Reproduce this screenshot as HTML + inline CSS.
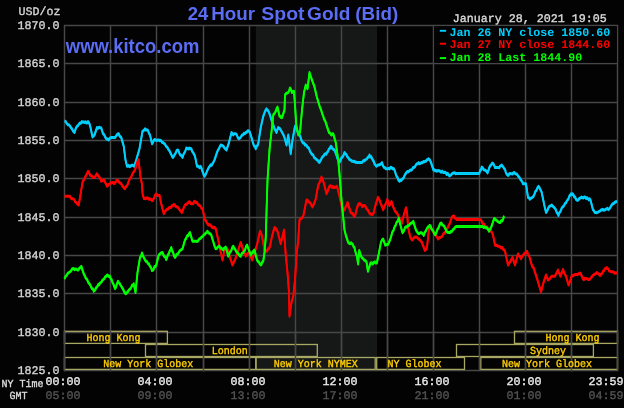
<!DOCTYPE html><html><head><meta charset="utf-8"><style>
html,body{margin:0;padding:0;background:#030303;width:624px;height:408px;overflow:hidden}
svg{display:block;will-change:transform;filter:blur(0.3px)}
.m{font-family:"Liberation Mono",monospace;text-rendering:geometricPrecision}
.s{font-family:"Liberation Sans",sans-serif;font-weight:bold}
</style></head><body>
<svg width="624" height="408" viewBox="0 0 624 408">
<rect x="0" y="0" width="624" height="408" fill="#030303"/>
<rect x="255.8" y="25.5" width="121.2" height="345.0" fill="#151817"/>
<path d="M64.50 24.77V371.23M110.50 24.77V371.23M156.50 24.77V371.23M203.50 24.77V371.23M249.50 24.77V371.23M295.50 24.77V371.23M341.50 24.77V371.23M387.50 24.77V371.23M433.50 24.77V371.23M479.50 24.77V371.23M525.50 24.77V371.23M571.50 24.77V371.23M617.50 24.77V371.23M64.50 25.50H617.50M64.50 63.50H617.50M64.50 102.50H617.50M64.50 140.50H617.50M64.50 178.50H617.50M64.50 217.50H617.50M64.50 255.50H617.50M64.50 293.50H617.50M64.50 332.50H617.50M64.50 370.50H617.50" stroke="#474747" stroke-width="1.45" fill="none"/>
<rect x="434.23" y="26.23" width="182.55" height="36.55" fill="#030303"/>
<rect x="64.50" y="331.30" width="102.90" height="12.10" fill="none" stroke="#a9a862" stroke-width="1.30"/>
<rect x="514.50" y="331.30" width="103.00" height="12.10" fill="none" stroke="#a9a862" stroke-width="1.30"/>
<rect x="145.50" y="344.50" width="171.80" height="12.00" fill="none" stroke="#a9a862" stroke-width="1.30"/>
<rect x="456.50" y="344.50" width="136.90" height="12.00" fill="none" stroke="#a9a862" stroke-width="1.30"/>
<rect x="64.50" y="357.50" width="191.40" height="11.90" fill="none" stroke="#a9a862" stroke-width="1.30"/>
<rect x="255.90" y="357.50" width="119.30" height="11.90" fill="none" stroke="#a9a862" stroke-width="1.30"/>
<rect x="376.70" y="357.50" width="87.80" height="11.90" fill="none" stroke="#a9a862" stroke-width="1.30"/>
<rect x="480.80" y="357.50" width="136.70" height="11.90" fill="none" stroke="#a9a862" stroke-width="1.30"/>
<path d="M64.50 330.65V371.23M110.50 330.65V371.23M156.50 330.65V371.23M203.50 330.65V371.23M249.50 330.65V371.23M295.50 330.65V371.23M341.50 330.65V371.23M387.50 330.65V371.23M433.50 330.65V371.23M479.50 330.65V371.23M525.50 330.65V371.23M571.50 330.65V371.23M617.50 330.65V371.23" stroke="#474747" stroke-width="1.45" fill="none"/>
<text class="m" transform="translate(86.50 341.20) scale(1 1.080)" font-size="10.00" font-weight="normal" fill="#ffcf00" stroke="#ffcf00" stroke-width="0.35">Hong Kong</text>
<text class="m" transform="translate(545.60 341.20) scale(1 1.080)" font-size="10.00" font-weight="normal" fill="#ffcf00" stroke="#ffcf00" stroke-width="0.35">Hong Kong</text>
<text class="m" transform="translate(211.80 354.20) scale(1 1.080)" font-size="10.00" font-weight="normal" fill="#ffcf00" stroke="#ffcf00" stroke-width="0.35">London</text>
<text class="m" transform="translate(529.90 354.20) scale(1 1.080)" font-size="10.00" font-weight="normal" fill="#ffcf00" stroke="#ffcf00" stroke-width="0.35">Sydney</text>
<text class="m" transform="translate(103.30 367.00) scale(1 1.080)" font-size="10.00" font-weight="normal" fill="#ffcf00" stroke="#ffcf00" stroke-width="0.35">New York Globex</text>
<text class="m" transform="translate(273.70 367.00) scale(1 1.080)" font-size="10.00" font-weight="normal" fill="#ffcf00" stroke="#ffcf00" stroke-width="0.35">New York NYMEX</text>
<text class="m" transform="translate(387.60 367.00) scale(1 1.080)" font-size="10.00" font-weight="normal" fill="#ffcf00" stroke="#ffcf00" stroke-width="0.35">NY Globex</text>
<text class="m" transform="translate(502.00 367.00) scale(1 1.080)" font-size="10.00" font-weight="normal" fill="#ffcf00" stroke="#ffcf00" stroke-width="0.35">New York Globex</text>
<g fill="none" stroke="#00d0ff" stroke-width="1.80" stroke-linejoin="round"><polyline points="64.50,121.25 65.38,121.22 66.25,122.50 67.19,124.06 68.12,124.85 69.06,124.87 70.00,126.25 70.90,127.49 71.80,128.66 72.70,130.27 73.60,131.77 74.50,132.50 75.33,129.69 76.17,127.48 77.00,126.25 78.00,125.77 79.00,123.96 80.00,123.00 80.94,123.22 81.88,121.60 82.81,122.15 83.75,122.00 84.58,122.48 85.42,121.68 86.25,123.05 87.08,123.06 87.92,121.57 88.75,122.50 89.62,124.15 90.50,127.50 91.50,132.25 92.50,137.00 93.50,136.07 94.50,135.00 95.33,132.50 96.17,130.00 97.00,127.50 97.85,128.39 98.70,127.49 99.55,127.29 100.40,127.76 101.25,128.00 102.12,130.88 103.00,133.75 103.81,134.15 104.62,135.75 105.44,137.39 106.25,138.75 107.08,139.16 107.92,139.10 108.75,140.00 109.58,138.68 110.42,137.83 111.25,137.50 112.19,137.50 113.12,137.50 114.06,137.50 115.00,137.50 116.00,136.18 117.00,134.62 118.00,133.75 118.81,133.83 119.62,136.23 120.44,136.66 121.25,137.50 122.08,140.42 122.92,143.33 123.75,146.25 124.62,153.12 125.50,160.00 127.00,166.25 127.85,166.36 128.70,165.38 129.55,166.69 130.40,166.30 131.25,165.50 132.25,165.07 133.25,165.70 134.25,166.25 135.25,163.12 136.25,160.00 137.06,157.19 137.88,154.38 138.69,151.56 139.50,148.75 140.50,142.92 141.50,137.08 142.50,131.25 143.33,130.82 144.17,129.96 145.00,128.75 146.00,130.12 147.00,129.78 148.00,130.50 149.00,133.34 150.00,135.00 151.00,139.38 152.00,143.75 152.83,142.64 153.67,140.56 154.50,139.50 155.35,139.76 156.20,140.39 157.05,140.42 157.90,139.91 158.75,140.00 159.60,140.66 160.45,140.16 161.30,141.04 162.15,142.54 163.00,142.50 163.90,143.35 164.80,143.91 165.70,145.59 166.60,146.87 167.50,147.50 168.42,149.48 169.33,150.61 170.25,152.39 171.17,154.18 172.08,156.33 173.00,157.50 173.90,156.04 174.80,154.31 175.70,152.98 176.60,150.65 177.50,150.00 178.33,150.43 179.17,152.87 180.00,154.62 180.83,155.17 181.67,156.06 182.50,157.50 183.44,154.53 184.38,152.75 185.31,151.24 186.25,148.00 187.08,148.61 187.92,148.32 188.75,149.02 189.58,148.02 190.42,148.65 191.25,148.75 192.19,151.44 193.12,152.64 194.06,154.30 195.00,156.25 196.00,161.25 197.00,166.25 197.85,166.08 198.70,166.84 199.55,167.82 200.40,166.36 201.25,167.50 202.06,170.20 202.88,172.45 203.69,174.76 204.50,176.25 205.35,174.93 206.20,173.31 207.05,171.03 207.90,169.36 208.75,167.50 209.69,166.43 210.62,164.83 211.56,165.35 212.50,163.75 213.50,162.00 214.50,160.00 215.33,157.50 216.17,155.00 217.00,152.50 217.94,150.08 218.88,148.76 219.81,146.85 220.75,145.00 221.58,145.16 222.42,145.56 223.25,146.25 224.06,147.26 224.88,148.35 225.69,149.26 226.50,150.00 227.33,147.50 228.17,145.00 229.00,142.50 229.83,139.17 230.67,135.83 231.50,132.50 232.38,133.67 233.25,135.00 234.08,133.73 234.92,133.68 235.75,133.75 236.56,134.42 237.38,136.40 238.19,138.15 239.00,138.75 240.00,138.04 241.00,136.78 242.00,135.00 242.94,134.94 243.88,133.31 244.81,133.74 245.75,132.50 246.56,132.50 247.38,131.12 248.19,130.69 249.00,131.25 249.88,132.25 250.75,135.00 251.58,137.92 252.42,140.83 253.25,143.75 254.08,145.88 254.92,146.63 255.75,148.75 256.58,146.38 257.42,145.64 258.25,143.75 259.08,138.33 259.92,132.92 260.75,127.50 261.58,123.75 262.42,120.00 263.25,116.25 264.06,114.09 264.88,111.73 265.69,110.01 266.50,108.75 267.33,110.05 268.17,110.65 269.00,112.50 270.00,115.01 271.00,118.71 272.00,121.25 272.83,123.75 273.67,126.25 274.50,128.75 275.50,130.54 276.50,132.50 277.38,129.68 278.25,127.50 279.06,128.39 279.88,128.52 280.69,130.11 281.50,131.25 282.50,133.19 283.50,134.86 284.50,137.50 285.50,141.25 286.50,145.00 287.38,140.00 288.25,135.00 289.08,141.25 289.92,147.50 290.75,153.75 291.62,146.88 292.50,140.00 293.33,135.42 294.17,130.83 295.00,126.25 296.00,127.42 297.00,130.00 297.83,132.39 298.67,133.35 299.50,135.00 300.33,136.56 301.17,139.36 302.00,141.25 303.00,143.07 304.00,142.89 305.00,145.00 305.81,144.76 306.62,145.61 307.44,147.27 308.25,147.50 309.08,148.56 309.92,151.20 310.75,152.50 311.58,153.86 312.42,154.66 313.25,155.12 314.08,157.52 314.92,158.24 315.75,158.75 316.69,159.72 317.62,160.13 318.56,161.83 319.50,162.50 320.33,160.64 321.17,159.30 322.00,157.50 322.83,156.34 323.67,156.07 324.50,154.21 325.33,153.80 326.17,154.18 327.00,152.50 327.94,151.61 328.88,149.03 329.81,148.46 330.75,146.25 331.69,146.85 332.62,148.92 333.56,149.50 334.50,150.00 335.50,152.77 336.50,155.39 337.50,158.75 338.50,159.49 339.50,162.00 340.33,161.18 341.17,158.17 342.00,157.50 342.83,156.41 343.67,155.00 344.50,152.50 345.44,153.88 346.38,154.41 347.31,156.91 348.25,157.50 349.19,159.29 350.12,159.74 351.06,160.33 352.00,161.25 352.83,161.24 353.67,161.39 354.50,161.35 355.33,162.40 356.17,162.17 357.00,162.50 357.83,162.50 358.67,162.50 359.50,162.50 360.33,162.50 361.17,162.50 362.00,162.50 362.83,161.32 363.67,160.54 364.50,160.92 365.33,159.63 366.17,159.37 367.00,158.75 367.83,157.19 368.67,156.92 369.50,155.00 370.31,156.97 371.12,156.63 371.94,158.21 372.75,160.00 373.69,161.25 374.62,164.00 375.56,165.20 376.50,166.25 377.33,165.54 378.17,164.90 379.00,165.00 380.00,164.48 381.00,163.94 382.00,162.50 383.00,165.78 384.00,167.50 384.94,167.53 385.88,168.81 386.81,168.77 387.75,168.75 388.69,168.41 389.62,169.00 390.56,167.33 391.50,167.50 392.50,168.74 393.50,168.42 394.50,170.00 395.50,173.12 396.50,176.25 397.50,177.32 398.50,180.32 399.50,181.25 400.31,180.11 401.12,180.47 401.94,179.56 402.75,178.75 403.69,177.80 404.62,175.39 405.56,173.78 406.50,172.50 407.44,171.50 408.38,171.91 409.31,170.81 410.25,170.00 411.19,170.19 412.12,169.45 413.06,167.47 414.00,167.50 414.94,166.65 415.88,164.91 416.81,163.86 417.75,163.75 418.69,162.67 419.62,163.78 420.56,163.33 421.50,162.50 422.44,162.78 423.38,161.59 424.31,161.77 425.25,161.25 426.06,161.13 426.88,159.78 427.69,159.50 428.50,158.75 429.33,159.50 430.17,160.50 431.00,162.50 431.83,165.00 432.67,167.50 433.50,170.00 434.35,169.68 435.20,170.90 436.05,170.42 436.90,171.17 437.75,170.50 438.64,170.71 439.54,170.67 440.43,171.87 441.32,172.23 442.21,171.05 443.11,172.52 444.00,172.50 444.89,172.19 445.79,172.66 446.68,174.48 447.57,173.39 448.46,174.17 449.36,175.95 450.25,175.50 451.19,174.73 452.12,173.56 453.06,173.03 454.00,173.00 454.83,172.70 455.67,173.77 456.50,173.50 457.31,173.50 458.12,173.50 458.94,173.50 459.75,173.50 460.56,173.50 461.38,173.50 462.19,173.50 463.00,173.50 463.81,173.50 464.62,173.50 465.44,173.50 466.25,173.50 467.06,173.50 467.88,173.50 468.69,173.50 469.50,173.50 470.31,173.50 471.12,173.50 471.94,173.50 472.75,173.50 473.56,173.50 474.38,173.50 475.19,173.50 476.00,173.50 476.81,173.50 477.62,173.50 478.44,173.50 479.25,173.50 480.08,170.62 480.92,169.91 481.75,167.00 482.56,167.53 483.38,169.35 484.19,169.99 485.00,170.00 485.83,170.63 486.67,171.56 487.50,173.00 488.33,170.71 489.17,167.78 490.00,166.25 491.12,164.90 492.25,163.00 493.17,163.67 494.08,165.12 495.00,167.50 495.88,167.50 496.75,167.50 497.62,167.50 498.50,167.50 499.31,167.74 500.12,165.88 500.94,165.80 501.75,165.00 502.58,166.16 503.42,167.16 504.25,168.75 505.06,169.53 505.88,172.62 506.69,174.28 507.50,175.00 508.38,175.53 509.25,173.68 510.12,173.55 511.00,173.75 511.81,173.65 512.62,173.99 513.44,172.89 514.25,172.50 515.06,173.46 515.88,174.04 516.69,173.94 517.50,175.00 518.50,176.57 519.50,177.65 520.50,179.50 521.33,180.46 522.17,181.58 523.00,183.75 524.00,183.75 525.00,183.75 526.00,183.75 527.00,190.62 528.00,197.50 528.83,197.52 529.67,199.20 530.50,198.75 531.50,197.82 532.50,197.36 533.50,196.25 534.50,194.01 535.50,191.25 536.50,190.38 537.50,187.72 538.50,186.25 539.31,187.46 540.12,189.06 540.94,190.61 541.75,192.50 542.58,196.67 543.42,200.83 544.25,205.00 545.12,208.75 546.00,212.50 546.83,211.46 547.67,209.87 548.50,207.50 549.31,206.52 550.12,205.95 550.94,205.70 551.75,205.00 552.58,205.98 553.42,206.84 554.25,207.50 555.08,208.71 555.92,209.97 556.75,212.50 557.62,213.54 558.50,215.50 559.33,212.90 560.17,211.93 561.00,210.00 561.81,207.98 562.62,206.74 563.44,206.49 564.25,205.00 565.06,203.37 565.88,203.03 566.69,201.24 567.50,200.00 568.38,199.09 569.25,196.25 570.12,195.32 571.00,193.75 571.83,194.70 572.67,193.82 573.50,195.00 574.31,197.06 575.12,196.91 575.94,199.25 576.75,200.00 577.69,200.37 578.62,199.58 579.56,198.18 580.50,198.00 581.44,197.04 582.38,197.53 583.31,198.00 584.25,197.00 585.19,197.07 586.12,198.58 587.06,197.67 588.00,198.75 588.83,199.91 589.67,198.74 590.50,200.00 591.33,203.33 592.17,206.67 593.00,210.00 593.83,210.50 594.67,212.39 595.50,212.50 596.33,212.71 597.17,212.57 598.00,212.11 598.83,211.61 599.67,211.17 600.50,210.50 601.33,209.75 602.17,210.05 603.00,209.38 603.83,210.22 604.67,209.97 605.50,209.50 606.44,208.87 607.38,208.34 608.31,209.77 609.25,208.75 610.06,208.05 610.88,206.34 611.69,205.07 612.50,203.75 613.50,203.80 614.50,202.50 615.50,202.00 617.00,201.25" transform="translate(0 -0.60)"/><polyline points="64.50,121.25 65.38,121.22 66.25,122.50 67.19,124.06 68.12,124.85 69.06,124.87 70.00,126.25 70.90,127.49 71.80,128.66 72.70,130.27 73.60,131.77 74.50,132.50 75.33,129.69 76.17,127.48 77.00,126.25 78.00,125.77 79.00,123.96 80.00,123.00 80.94,123.22 81.88,121.60 82.81,122.15 83.75,122.00 84.58,122.48 85.42,121.68 86.25,123.05 87.08,123.06 87.92,121.57 88.75,122.50 89.62,124.15 90.50,127.50 91.50,132.25 92.50,137.00 93.50,136.07 94.50,135.00 95.33,132.50 96.17,130.00 97.00,127.50 97.85,128.39 98.70,127.49 99.55,127.29 100.40,127.76 101.25,128.00 102.12,130.88 103.00,133.75 103.81,134.15 104.62,135.75 105.44,137.39 106.25,138.75 107.08,139.16 107.92,139.10 108.75,140.00 109.58,138.68 110.42,137.83 111.25,137.50 112.19,137.50 113.12,137.50 114.06,137.50 115.00,137.50 116.00,136.18 117.00,134.62 118.00,133.75 118.81,133.83 119.62,136.23 120.44,136.66 121.25,137.50 122.08,140.42 122.92,143.33 123.75,146.25 124.62,153.12 125.50,160.00 127.00,166.25 127.85,166.36 128.70,165.38 129.55,166.69 130.40,166.30 131.25,165.50 132.25,165.07 133.25,165.70 134.25,166.25 135.25,163.12 136.25,160.00 137.06,157.19 137.88,154.38 138.69,151.56 139.50,148.75 140.50,142.92 141.50,137.08 142.50,131.25 143.33,130.82 144.17,129.96 145.00,128.75 146.00,130.12 147.00,129.78 148.00,130.50 149.00,133.34 150.00,135.00 151.00,139.38 152.00,143.75 152.83,142.64 153.67,140.56 154.50,139.50 155.35,139.76 156.20,140.39 157.05,140.42 157.90,139.91 158.75,140.00 159.60,140.66 160.45,140.16 161.30,141.04 162.15,142.54 163.00,142.50 163.90,143.35 164.80,143.91 165.70,145.59 166.60,146.87 167.50,147.50 168.42,149.48 169.33,150.61 170.25,152.39 171.17,154.18 172.08,156.33 173.00,157.50 173.90,156.04 174.80,154.31 175.70,152.98 176.60,150.65 177.50,150.00 178.33,150.43 179.17,152.87 180.00,154.62 180.83,155.17 181.67,156.06 182.50,157.50 183.44,154.53 184.38,152.75 185.31,151.24 186.25,148.00 187.08,148.61 187.92,148.32 188.75,149.02 189.58,148.02 190.42,148.65 191.25,148.75 192.19,151.44 193.12,152.64 194.06,154.30 195.00,156.25 196.00,161.25 197.00,166.25 197.85,166.08 198.70,166.84 199.55,167.82 200.40,166.36 201.25,167.50 202.06,170.20 202.88,172.45 203.69,174.76 204.50,176.25 205.35,174.93 206.20,173.31 207.05,171.03 207.90,169.36 208.75,167.50 209.69,166.43 210.62,164.83 211.56,165.35 212.50,163.75 213.50,162.00 214.50,160.00 215.33,157.50 216.17,155.00 217.00,152.50 217.94,150.08 218.88,148.76 219.81,146.85 220.75,145.00 221.58,145.16 222.42,145.56 223.25,146.25 224.06,147.26 224.88,148.35 225.69,149.26 226.50,150.00 227.33,147.50 228.17,145.00 229.00,142.50 229.83,139.17 230.67,135.83 231.50,132.50 232.38,133.67 233.25,135.00 234.08,133.73 234.92,133.68 235.75,133.75 236.56,134.42 237.38,136.40 238.19,138.15 239.00,138.75 240.00,138.04 241.00,136.78 242.00,135.00 242.94,134.94 243.88,133.31 244.81,133.74 245.75,132.50 246.56,132.50 247.38,131.12 248.19,130.69 249.00,131.25 249.88,132.25 250.75,135.00 251.58,137.92 252.42,140.83 253.25,143.75 254.08,145.88 254.92,146.63 255.75,148.75 256.58,146.38 257.42,145.64 258.25,143.75 259.08,138.33 259.92,132.92 260.75,127.50 261.58,123.75 262.42,120.00 263.25,116.25 264.06,114.09 264.88,111.73 265.69,110.01 266.50,108.75 267.33,110.05 268.17,110.65 269.00,112.50 270.00,115.01 271.00,118.71 272.00,121.25 272.83,123.75 273.67,126.25 274.50,128.75 275.50,130.54 276.50,132.50 277.38,129.68 278.25,127.50 279.06,128.39 279.88,128.52 280.69,130.11 281.50,131.25 282.50,133.19 283.50,134.86 284.50,137.50 285.50,141.25 286.50,145.00 287.38,140.00 288.25,135.00 289.08,141.25 289.92,147.50 290.75,153.75 291.62,146.88 292.50,140.00 293.33,135.42 294.17,130.83 295.00,126.25 296.00,127.42 297.00,130.00 297.83,132.39 298.67,133.35 299.50,135.00 300.33,136.56 301.17,139.36 302.00,141.25 303.00,143.07 304.00,142.89 305.00,145.00 305.81,144.76 306.62,145.61 307.44,147.27 308.25,147.50 309.08,148.56 309.92,151.20 310.75,152.50 311.58,153.86 312.42,154.66 313.25,155.12 314.08,157.52 314.92,158.24 315.75,158.75 316.69,159.72 317.62,160.13 318.56,161.83 319.50,162.50 320.33,160.64 321.17,159.30 322.00,157.50 322.83,156.34 323.67,156.07 324.50,154.21 325.33,153.80 326.17,154.18 327.00,152.50 327.94,151.61 328.88,149.03 329.81,148.46 330.75,146.25 331.69,146.85 332.62,148.92 333.56,149.50 334.50,150.00 335.50,152.77 336.50,155.39 337.50,158.75 338.50,159.49 339.50,162.00 340.33,161.18 341.17,158.17 342.00,157.50 342.83,156.41 343.67,155.00 344.50,152.50 345.44,153.88 346.38,154.41 347.31,156.91 348.25,157.50 349.19,159.29 350.12,159.74 351.06,160.33 352.00,161.25 352.83,161.24 353.67,161.39 354.50,161.35 355.33,162.40 356.17,162.17 357.00,162.50 357.83,162.50 358.67,162.50 359.50,162.50 360.33,162.50 361.17,162.50 362.00,162.50 362.83,161.32 363.67,160.54 364.50,160.92 365.33,159.63 366.17,159.37 367.00,158.75 367.83,157.19 368.67,156.92 369.50,155.00 370.31,156.97 371.12,156.63 371.94,158.21 372.75,160.00 373.69,161.25 374.62,164.00 375.56,165.20 376.50,166.25 377.33,165.54 378.17,164.90 379.00,165.00 380.00,164.48 381.00,163.94 382.00,162.50 383.00,165.78 384.00,167.50 384.94,167.53 385.88,168.81 386.81,168.77 387.75,168.75 388.69,168.41 389.62,169.00 390.56,167.33 391.50,167.50 392.50,168.74 393.50,168.42 394.50,170.00 395.50,173.12 396.50,176.25 397.50,177.32 398.50,180.32 399.50,181.25 400.31,180.11 401.12,180.47 401.94,179.56 402.75,178.75 403.69,177.80 404.62,175.39 405.56,173.78 406.50,172.50 407.44,171.50 408.38,171.91 409.31,170.81 410.25,170.00 411.19,170.19 412.12,169.45 413.06,167.47 414.00,167.50 414.94,166.65 415.88,164.91 416.81,163.86 417.75,163.75 418.69,162.67 419.62,163.78 420.56,163.33 421.50,162.50 422.44,162.78 423.38,161.59 424.31,161.77 425.25,161.25 426.06,161.13 426.88,159.78 427.69,159.50 428.50,158.75 429.33,159.50 430.17,160.50 431.00,162.50 431.83,165.00 432.67,167.50 433.50,170.00 434.35,169.68 435.20,170.90 436.05,170.42 436.90,171.17 437.75,170.50 438.64,170.71 439.54,170.67 440.43,171.87 441.32,172.23 442.21,171.05 443.11,172.52 444.00,172.50 444.89,172.19 445.79,172.66 446.68,174.48 447.57,173.39 448.46,174.17 449.36,175.95 450.25,175.50 451.19,174.73 452.12,173.56 453.06,173.03 454.00,173.00 454.83,172.70 455.67,173.77 456.50,173.50 457.31,173.50 458.12,173.50 458.94,173.50 459.75,173.50 460.56,173.50 461.38,173.50 462.19,173.50 463.00,173.50 463.81,173.50 464.62,173.50 465.44,173.50 466.25,173.50 467.06,173.50 467.88,173.50 468.69,173.50 469.50,173.50 470.31,173.50 471.12,173.50 471.94,173.50 472.75,173.50 473.56,173.50 474.38,173.50 475.19,173.50 476.00,173.50 476.81,173.50 477.62,173.50 478.44,173.50 479.25,173.50 480.08,170.62 480.92,169.91 481.75,167.00 482.56,167.53 483.38,169.35 484.19,169.99 485.00,170.00 485.83,170.63 486.67,171.56 487.50,173.00 488.33,170.71 489.17,167.78 490.00,166.25 491.12,164.90 492.25,163.00 493.17,163.67 494.08,165.12 495.00,167.50 495.88,167.50 496.75,167.50 497.62,167.50 498.50,167.50 499.31,167.74 500.12,165.88 500.94,165.80 501.75,165.00 502.58,166.16 503.42,167.16 504.25,168.75 505.06,169.53 505.88,172.62 506.69,174.28 507.50,175.00 508.38,175.53 509.25,173.68 510.12,173.55 511.00,173.75 511.81,173.65 512.62,173.99 513.44,172.89 514.25,172.50 515.06,173.46 515.88,174.04 516.69,173.94 517.50,175.00 518.50,176.57 519.50,177.65 520.50,179.50 521.33,180.46 522.17,181.58 523.00,183.75 524.00,183.75 525.00,183.75 526.00,183.75 527.00,190.62 528.00,197.50 528.83,197.52 529.67,199.20 530.50,198.75 531.50,197.82 532.50,197.36 533.50,196.25 534.50,194.01 535.50,191.25 536.50,190.38 537.50,187.72 538.50,186.25 539.31,187.46 540.12,189.06 540.94,190.61 541.75,192.50 542.58,196.67 543.42,200.83 544.25,205.00 545.12,208.75 546.00,212.50 546.83,211.46 547.67,209.87 548.50,207.50 549.31,206.52 550.12,205.95 550.94,205.70 551.75,205.00 552.58,205.98 553.42,206.84 554.25,207.50 555.08,208.71 555.92,209.97 556.75,212.50 557.62,213.54 558.50,215.50 559.33,212.90 560.17,211.93 561.00,210.00 561.81,207.98 562.62,206.74 563.44,206.49 564.25,205.00 565.06,203.37 565.88,203.03 566.69,201.24 567.50,200.00 568.38,199.09 569.25,196.25 570.12,195.32 571.00,193.75 571.83,194.70 572.67,193.82 573.50,195.00 574.31,197.06 575.12,196.91 575.94,199.25 576.75,200.00 577.69,200.37 578.62,199.58 579.56,198.18 580.50,198.00 581.44,197.04 582.38,197.53 583.31,198.00 584.25,197.00 585.19,197.07 586.12,198.58 587.06,197.67 588.00,198.75 588.83,199.91 589.67,198.74 590.50,200.00 591.33,203.33 592.17,206.67 593.00,210.00 593.83,210.50 594.67,212.39 595.50,212.50 596.33,212.71 597.17,212.57 598.00,212.11 598.83,211.61 599.67,211.17 600.50,210.50 601.33,209.75 602.17,210.05 603.00,209.38 603.83,210.22 604.67,209.97 605.50,209.50 606.44,208.87 607.38,208.34 608.31,209.77 609.25,208.75 610.06,208.05 610.88,206.34 611.69,205.07 612.50,203.75 613.50,203.80 614.50,202.50 615.50,202.00 617.00,201.25" transform="translate(0 0.60)"/></g>
<g fill="none" stroke="#ff0000" stroke-width="1.80" stroke-linejoin="round"><polyline points="64.50,196.25 65.42,196.25 66.33,196.25 67.25,196.25 68.17,196.25 69.08,196.25 70.00,196.25 70.83,197.90 71.67,198.72 72.50,198.75 73.44,198.89 74.38,199.88 75.31,202.17 76.25,202.50 77.08,203.76 77.92,204.47 78.75,205.00 80.00,197.50 80.83,192.50 81.67,187.50 82.50,182.50 83.33,180.49 84.17,179.36 85.00,177.50 86.00,175.61 87.00,173.48 88.00,171.25 89.00,172.51 90.00,175.00 90.94,175.50 91.88,176.06 92.81,177.28 93.75,177.50 94.56,177.45 95.38,176.43 96.19,174.77 97.00,173.75 97.85,175.15 98.70,176.33 99.55,177.41 100.40,178.90 101.25,181.25 102.06,180.87 102.88,180.30 103.69,180.10 104.50,180.00 105.33,182.79 106.17,184.21 107.00,186.25 108.00,185.53 109.00,184.11 110.00,183.75 110.83,182.68 111.67,183.02 112.50,182.47 113.33,182.94 114.17,183.61 115.00,182.50 115.83,181.98 116.67,180.26 117.50,180.00 118.44,181.65 119.38,182.41 120.31,183.23 121.25,183.75 122.19,185.73 123.12,186.72 124.06,188.02 125.00,188.75 125.94,186.61 126.88,185.87 127.81,183.96 128.75,181.25 129.69,178.77 130.62,177.96 131.56,176.01 132.50,173.75 133.33,172.43 134.17,171.30 135.00,170.00 135.83,167.17 136.67,164.33 137.50,161.50 138.50,159.60 139.45,168.05 140.40,176.50 141.90,183.80 142.60,194.00 143.80,198.50 144.87,198.25 145.93,198.80 147.00,197.80 148.00,198.20 149.00,199.20 150.00,199.00 151.10,199.59 152.20,200.70 153.12,199.71 154.05,198.07 154.97,195.60 155.90,194.00 156.82,194.52 157.75,195.56 158.68,195.60 159.60,195.60 161.00,203.00 162.50,208.80 163.75,213.75 164.58,212.48 165.42,210.75 166.25,210.00 167.19,209.06 168.12,209.11 169.06,207.52 170.00,207.50 170.94,207.48 171.88,205.58 172.81,205.99 173.75,204.50 174.69,204.78 175.62,206.57 176.56,206.75 177.50,207.00 178.40,208.11 179.30,209.23 180.20,210.57 181.10,211.56 182.00,212.50 183.00,209.66 184.00,206.97 185.00,205.00 185.94,204.27 186.88,204.28 187.81,202.97 188.75,202.00 189.69,201.67 190.62,203.45 191.56,203.72 192.50,203.75 193.33,203.65 194.17,201.53 195.00,201.25 195.94,202.63 196.88,202.33 197.81,204.34 198.75,205.00 199.69,205.53 200.62,206.38 201.56,208.49 202.50,208.75 203.33,212.50 204.17,216.25 205.00,220.00 205.83,220.54 206.67,222.54 207.50,223.75 208.44,225.01 209.38,224.54 210.31,225.10 211.25,226.25 212.15,227.44 213.05,227.11 213.95,228.14 214.85,227.41 215.75,228.75 216.58,232.50 217.42,236.25 218.25,240.00 219.08,244.17 219.92,248.33 220.75,252.50 221.62,256.25 222.50,260.00 223.50,255.00 224.50,250.00 225.50,249.34 226.50,248.58 227.50,248.75 228.33,251.67 229.17,254.58 230.00,257.50 230.83,260.00 231.67,262.50 232.50,265.00 233.33,263.64 234.17,260.92 235.00,260.00 235.81,257.50 236.62,255.00 237.44,252.50 238.25,250.00 239.08,247.50 239.92,245.00 240.75,242.50 241.58,245.00 242.42,247.50 243.25,250.00 244.08,252.90 244.92,253.31 245.75,256.25 246.56,255.73 247.38,253.51 248.19,253.00 249.00,252.50 250.00,255.56 251.00,256.88 252.00,260.00 252.83,257.50 253.67,255.00 254.50,252.50 255.33,250.00 256.17,247.50 257.00,245.00 258.00,240.42 259.00,235.83 260.00,231.25 261.00,233.18 262.00,236.25 262.83,240.83 263.67,245.42 264.50,250.00 265.33,250.76 266.17,250.63 267.00,251.25 268.00,248.76 269.00,248.80 270.00,246.25 271.00,241.25 272.00,236.25 272.83,233.33 273.67,230.42 274.50,227.50 275.50,228.12 276.50,229.17 277.50,231.25 278.31,234.38 279.12,237.50 279.94,240.62 280.75,243.75 281.56,240.31 282.38,236.88 283.19,233.44 284.00,230.00 284.88,242.50 285.75,255.00 286.62,263.75 287.50,272.50 289.00,292.50 289.50,316.25 290.50,309.38 291.50,302.50 292.38,299.38 293.25,296.25 294.12,288.12 295.00,280.00 296.50,255.00 297.38,247.50 298.25,240.00 299.50,220.00 300.44,218.78 301.38,218.33 302.31,217.62 303.25,216.25 304.06,212.19 304.88,208.12 305.69,204.06 306.50,200.00 307.50,200.14 308.50,201.37 309.50,202.50 310.50,203.16 311.50,205.41 312.50,207.00 313.31,205.42 314.12,203.31 314.94,201.54 315.75,198.75 316.58,194.17 317.42,189.58 318.25,185.00 319.06,183.46 319.88,181.65 320.69,179.37 321.50,177.00 322.33,179.20 323.17,181.01 324.00,183.75 324.83,187.08 325.67,190.42 326.50,193.75 327.50,191.54 328.50,188.42 329.50,186.25 330.33,185.74 331.17,186.57 332.00,187.55 332.83,186.41 333.67,187.44 334.50,187.50 335.33,186.89 336.17,186.69 337.00,186.25 337.83,189.58 338.67,192.92 339.50,196.25 340.33,200.00 341.17,203.75 342.00,207.50 342.83,207.69 343.67,209.99 344.50,210.00 345.50,207.07 346.50,205.19 347.50,202.50 348.31,205.00 349.12,207.50 349.94,210.00 350.75,212.50 351.69,213.29 352.62,213.51 353.56,215.42 354.50,216.25 355.00,216.00 356.00,211.85 357.00,207.70 358.10,204.95 359.20,203.50 360.23,203.77 361.27,204.79 362.30,206.70 363.35,205.54 364.40,205.60 365.43,206.27 366.47,208.64 367.50,209.80 368.53,211.21 369.57,213.47 370.60,214.00 371.65,214.41 372.70,214.16 373.75,212.90 374.80,207.70 375.83,204.23 376.87,200.77 377.90,197.30 378.95,198.92 380.00,201.50 381.03,204.17 382.07,206.58 383.10,209.80 383.94,207.88 384.78,205.86 385.62,204.10 386.46,201.86 387.30,199.40 388.35,202.06 389.40,205.60 390.45,203.41 391.50,201.50 392.50,204.60 393.50,207.70 394.55,209.85 395.60,211.90 396.65,212.74 397.70,214.53 398.75,217.10 399.80,219.00 400.85,220.53 401.90,223.30 402.95,218.65 404.00,214.00 405.00,210.85 406.00,207.70 407.10,212.90 408.10,227.50 409.15,232.20 410.20,236.90 411.25,238.85 412.30,240.00 413.33,238.50 414.37,237.21 415.40,236.90 416.43,237.03 417.47,237.82 418.50,239.00 419.57,239.49 420.63,241.04 421.70,242.00 422.73,244.74 423.77,247.26 424.80,250.40 425.85,249.61 426.90,248.30 427.95,238.40 429.00,228.50 430.00,227.48 431.00,227.50 432.07,229.97 433.13,231.80 434.20,232.70 435.02,234.37 435.84,235.10 436.66,236.50 437.48,237.89 438.30,239.00 439.37,237.49 440.43,237.45 441.50,236.90 442.32,235.91 443.14,234.25 443.96,233.05 444.78,233.28 445.60,231.70 446.65,229.36 447.70,227.53 448.75,225.40 449.80,223.39 450.85,220.07 451.90,217.10 452.95,216.17 454.00,216.00 454.83,218.04 455.67,218.10 456.50,219.50 457.32,219.50 458.14,219.50 458.96,219.50 459.78,219.50 460.59,219.50 461.41,219.50 462.23,219.50 463.05,219.50 463.87,219.50 464.69,219.50 465.51,219.50 466.33,219.50 467.15,219.50 467.97,219.50 468.78,219.50 469.60,219.50 470.42,219.50 471.24,219.50 472.06,219.50 472.88,219.50 473.70,219.50 474.52,219.50 475.34,219.50 476.16,219.50 476.97,219.50 477.79,219.50 478.61,219.50 479.43,219.50 480.25,219.50 481.17,220.05 482.08,222.67 483.00,223.75 483.83,223.87 484.67,225.07 485.50,226.86 486.33,227.39 487.17,227.04 488.00,228.75 488.83,229.08 489.67,229.42 490.50,230.00 491.33,231.64 492.17,232.81 493.00,235.00 494.00,240.00 495.00,245.00 496.00,245.58 497.00,245.07 498.00,246.25 498.94,246.17 499.88,246.65 500.81,247.97 501.75,247.50 502.56,247.68 503.38,249.83 504.19,249.76 505.00,251.25 506.00,255.83 507.00,260.42 508.00,265.00 508.83,263.88 509.67,262.31 510.50,261.25 511.50,259.31 512.50,257.50 513.33,260.00 514.17,262.50 515.00,265.00 516.00,261.25 517.00,257.50 518.00,253.75 519.00,255.87 520.00,256.89 521.00,258.75 521.83,256.82 522.67,255.57 523.50,255.00 524.38,253.31 525.25,253.76 526.12,252.44 527.00,251.25 528.12,254.58 529.25,256.25 530.08,259.17 530.92,262.08 531.75,265.00 532.58,267.01 533.42,267.48 534.25,270.00 535.06,272.50 535.88,275.00 536.69,277.50 537.50,280.00 538.38,283.00 539.25,286.00 540.12,289.00 541.00,292.00 541.83,288.83 542.67,285.67 543.50,282.50 544.33,280.00 545.17,277.50 546.00,275.00 547.00,277.79 548.00,280.00 548.94,279.56 549.88,278.53 550.81,277.18 551.75,276.25 552.56,276.25 553.38,276.25 554.19,276.25 555.00,276.25 556.00,273.91 557.00,272.01 558.00,270.00 558.83,272.62 559.67,273.75 560.50,276.25 561.33,274.05 562.17,271.71 563.00,269.50 564.00,272.57 565.00,274.55 566.00,276.25 566.83,279.17 567.67,282.08 568.50,285.00 569.31,283.59 570.12,281.23 570.94,278.07 571.75,276.25 572.60,275.42 573.45,275.53 574.30,274.77 575.15,274.72 576.00,274.50 576.80,274.52 577.60,274.65 578.40,273.75 579.20,273.87 580.00,273.00 581.00,274.19 582.00,276.57 583.00,278.75 583.83,279.77 584.67,278.36 585.50,278.98 586.33,278.47 587.17,278.63 588.00,279.50 588.94,279.59 589.88,279.13 590.81,277.89 591.75,277.00 592.58,275.58 593.42,275.13 594.25,274.27 595.08,274.31 595.92,273.58 596.75,272.50 597.56,273.14 598.38,274.04 599.19,274.05 600.00,275.50 601.00,274.16 602.00,273.48 603.00,271.25 603.94,270.77 604.88,268.65 605.81,268.47 606.75,267.50 607.56,268.83 608.38,268.94 609.19,271.02 610.00,271.25 610.88,271.37 611.75,271.99 612.62,271.64 613.50,272.00 614.38,273.14 615.25,273.01 616.12,272.88 617.00,273.00" transform="translate(0 -0.60)"/><polyline points="64.50,196.25 65.42,196.25 66.33,196.25 67.25,196.25 68.17,196.25 69.08,196.25 70.00,196.25 70.83,197.90 71.67,198.72 72.50,198.75 73.44,198.89 74.38,199.88 75.31,202.17 76.25,202.50 77.08,203.76 77.92,204.47 78.75,205.00 80.00,197.50 80.83,192.50 81.67,187.50 82.50,182.50 83.33,180.49 84.17,179.36 85.00,177.50 86.00,175.61 87.00,173.48 88.00,171.25 89.00,172.51 90.00,175.00 90.94,175.50 91.88,176.06 92.81,177.28 93.75,177.50 94.56,177.45 95.38,176.43 96.19,174.77 97.00,173.75 97.85,175.15 98.70,176.33 99.55,177.41 100.40,178.90 101.25,181.25 102.06,180.87 102.88,180.30 103.69,180.10 104.50,180.00 105.33,182.79 106.17,184.21 107.00,186.25 108.00,185.53 109.00,184.11 110.00,183.75 110.83,182.68 111.67,183.02 112.50,182.47 113.33,182.94 114.17,183.61 115.00,182.50 115.83,181.98 116.67,180.26 117.50,180.00 118.44,181.65 119.38,182.41 120.31,183.23 121.25,183.75 122.19,185.73 123.12,186.72 124.06,188.02 125.00,188.75 125.94,186.61 126.88,185.87 127.81,183.96 128.75,181.25 129.69,178.77 130.62,177.96 131.56,176.01 132.50,173.75 133.33,172.43 134.17,171.30 135.00,170.00 135.83,167.17 136.67,164.33 137.50,161.50 138.50,159.60 139.45,168.05 140.40,176.50 141.90,183.80 142.60,194.00 143.80,198.50 144.87,198.25 145.93,198.80 147.00,197.80 148.00,198.20 149.00,199.20 150.00,199.00 151.10,199.59 152.20,200.70 153.12,199.71 154.05,198.07 154.97,195.60 155.90,194.00 156.82,194.52 157.75,195.56 158.68,195.60 159.60,195.60 161.00,203.00 162.50,208.80 163.75,213.75 164.58,212.48 165.42,210.75 166.25,210.00 167.19,209.06 168.12,209.11 169.06,207.52 170.00,207.50 170.94,207.48 171.88,205.58 172.81,205.99 173.75,204.50 174.69,204.78 175.62,206.57 176.56,206.75 177.50,207.00 178.40,208.11 179.30,209.23 180.20,210.57 181.10,211.56 182.00,212.50 183.00,209.66 184.00,206.97 185.00,205.00 185.94,204.27 186.88,204.28 187.81,202.97 188.75,202.00 189.69,201.67 190.62,203.45 191.56,203.72 192.50,203.75 193.33,203.65 194.17,201.53 195.00,201.25 195.94,202.63 196.88,202.33 197.81,204.34 198.75,205.00 199.69,205.53 200.62,206.38 201.56,208.49 202.50,208.75 203.33,212.50 204.17,216.25 205.00,220.00 205.83,220.54 206.67,222.54 207.50,223.75 208.44,225.01 209.38,224.54 210.31,225.10 211.25,226.25 212.15,227.44 213.05,227.11 213.95,228.14 214.85,227.41 215.75,228.75 216.58,232.50 217.42,236.25 218.25,240.00 219.08,244.17 219.92,248.33 220.75,252.50 221.62,256.25 222.50,260.00 223.50,255.00 224.50,250.00 225.50,249.34 226.50,248.58 227.50,248.75 228.33,251.67 229.17,254.58 230.00,257.50 230.83,260.00 231.67,262.50 232.50,265.00 233.33,263.64 234.17,260.92 235.00,260.00 235.81,257.50 236.62,255.00 237.44,252.50 238.25,250.00 239.08,247.50 239.92,245.00 240.75,242.50 241.58,245.00 242.42,247.50 243.25,250.00 244.08,252.90 244.92,253.31 245.75,256.25 246.56,255.73 247.38,253.51 248.19,253.00 249.00,252.50 250.00,255.56 251.00,256.88 252.00,260.00 252.83,257.50 253.67,255.00 254.50,252.50 255.33,250.00 256.17,247.50 257.00,245.00 258.00,240.42 259.00,235.83 260.00,231.25 261.00,233.18 262.00,236.25 262.83,240.83 263.67,245.42 264.50,250.00 265.33,250.76 266.17,250.63 267.00,251.25 268.00,248.76 269.00,248.80 270.00,246.25 271.00,241.25 272.00,236.25 272.83,233.33 273.67,230.42 274.50,227.50 275.50,228.12 276.50,229.17 277.50,231.25 278.31,234.38 279.12,237.50 279.94,240.62 280.75,243.75 281.56,240.31 282.38,236.88 283.19,233.44 284.00,230.00 284.88,242.50 285.75,255.00 286.62,263.75 287.50,272.50 289.00,292.50 289.50,316.25 290.50,309.38 291.50,302.50 292.38,299.38 293.25,296.25 294.12,288.12 295.00,280.00 296.50,255.00 297.38,247.50 298.25,240.00 299.50,220.00 300.44,218.78 301.38,218.33 302.31,217.62 303.25,216.25 304.06,212.19 304.88,208.12 305.69,204.06 306.50,200.00 307.50,200.14 308.50,201.37 309.50,202.50 310.50,203.16 311.50,205.41 312.50,207.00 313.31,205.42 314.12,203.31 314.94,201.54 315.75,198.75 316.58,194.17 317.42,189.58 318.25,185.00 319.06,183.46 319.88,181.65 320.69,179.37 321.50,177.00 322.33,179.20 323.17,181.01 324.00,183.75 324.83,187.08 325.67,190.42 326.50,193.75 327.50,191.54 328.50,188.42 329.50,186.25 330.33,185.74 331.17,186.57 332.00,187.55 332.83,186.41 333.67,187.44 334.50,187.50 335.33,186.89 336.17,186.69 337.00,186.25 337.83,189.58 338.67,192.92 339.50,196.25 340.33,200.00 341.17,203.75 342.00,207.50 342.83,207.69 343.67,209.99 344.50,210.00 345.50,207.07 346.50,205.19 347.50,202.50 348.31,205.00 349.12,207.50 349.94,210.00 350.75,212.50 351.69,213.29 352.62,213.51 353.56,215.42 354.50,216.25 355.00,216.00 356.00,211.85 357.00,207.70 358.10,204.95 359.20,203.50 360.23,203.77 361.27,204.79 362.30,206.70 363.35,205.54 364.40,205.60 365.43,206.27 366.47,208.64 367.50,209.80 368.53,211.21 369.57,213.47 370.60,214.00 371.65,214.41 372.70,214.16 373.75,212.90 374.80,207.70 375.83,204.23 376.87,200.77 377.90,197.30 378.95,198.92 380.00,201.50 381.03,204.17 382.07,206.58 383.10,209.80 383.94,207.88 384.78,205.86 385.62,204.10 386.46,201.86 387.30,199.40 388.35,202.06 389.40,205.60 390.45,203.41 391.50,201.50 392.50,204.60 393.50,207.70 394.55,209.85 395.60,211.90 396.65,212.74 397.70,214.53 398.75,217.10 399.80,219.00 400.85,220.53 401.90,223.30 402.95,218.65 404.00,214.00 405.00,210.85 406.00,207.70 407.10,212.90 408.10,227.50 409.15,232.20 410.20,236.90 411.25,238.85 412.30,240.00 413.33,238.50 414.37,237.21 415.40,236.90 416.43,237.03 417.47,237.82 418.50,239.00 419.57,239.49 420.63,241.04 421.70,242.00 422.73,244.74 423.77,247.26 424.80,250.40 425.85,249.61 426.90,248.30 427.95,238.40 429.00,228.50 430.00,227.48 431.00,227.50 432.07,229.97 433.13,231.80 434.20,232.70 435.02,234.37 435.84,235.10 436.66,236.50 437.48,237.89 438.30,239.00 439.37,237.49 440.43,237.45 441.50,236.90 442.32,235.91 443.14,234.25 443.96,233.05 444.78,233.28 445.60,231.70 446.65,229.36 447.70,227.53 448.75,225.40 449.80,223.39 450.85,220.07 451.90,217.10 452.95,216.17 454.00,216.00 454.83,218.04 455.67,218.10 456.50,219.50 457.32,219.50 458.14,219.50 458.96,219.50 459.78,219.50 460.59,219.50 461.41,219.50 462.23,219.50 463.05,219.50 463.87,219.50 464.69,219.50 465.51,219.50 466.33,219.50 467.15,219.50 467.97,219.50 468.78,219.50 469.60,219.50 470.42,219.50 471.24,219.50 472.06,219.50 472.88,219.50 473.70,219.50 474.52,219.50 475.34,219.50 476.16,219.50 476.97,219.50 477.79,219.50 478.61,219.50 479.43,219.50 480.25,219.50 481.17,220.05 482.08,222.67 483.00,223.75 483.83,223.87 484.67,225.07 485.50,226.86 486.33,227.39 487.17,227.04 488.00,228.75 488.83,229.08 489.67,229.42 490.50,230.00 491.33,231.64 492.17,232.81 493.00,235.00 494.00,240.00 495.00,245.00 496.00,245.58 497.00,245.07 498.00,246.25 498.94,246.17 499.88,246.65 500.81,247.97 501.75,247.50 502.56,247.68 503.38,249.83 504.19,249.76 505.00,251.25 506.00,255.83 507.00,260.42 508.00,265.00 508.83,263.88 509.67,262.31 510.50,261.25 511.50,259.31 512.50,257.50 513.33,260.00 514.17,262.50 515.00,265.00 516.00,261.25 517.00,257.50 518.00,253.75 519.00,255.87 520.00,256.89 521.00,258.75 521.83,256.82 522.67,255.57 523.50,255.00 524.38,253.31 525.25,253.76 526.12,252.44 527.00,251.25 528.12,254.58 529.25,256.25 530.08,259.17 530.92,262.08 531.75,265.00 532.58,267.01 533.42,267.48 534.25,270.00 535.06,272.50 535.88,275.00 536.69,277.50 537.50,280.00 538.38,283.00 539.25,286.00 540.12,289.00 541.00,292.00 541.83,288.83 542.67,285.67 543.50,282.50 544.33,280.00 545.17,277.50 546.00,275.00 547.00,277.79 548.00,280.00 548.94,279.56 549.88,278.53 550.81,277.18 551.75,276.25 552.56,276.25 553.38,276.25 554.19,276.25 555.00,276.25 556.00,273.91 557.00,272.01 558.00,270.00 558.83,272.62 559.67,273.75 560.50,276.25 561.33,274.05 562.17,271.71 563.00,269.50 564.00,272.57 565.00,274.55 566.00,276.25 566.83,279.17 567.67,282.08 568.50,285.00 569.31,283.59 570.12,281.23 570.94,278.07 571.75,276.25 572.60,275.42 573.45,275.53 574.30,274.77 575.15,274.72 576.00,274.50 576.80,274.52 577.60,274.65 578.40,273.75 579.20,273.87 580.00,273.00 581.00,274.19 582.00,276.57 583.00,278.75 583.83,279.77 584.67,278.36 585.50,278.98 586.33,278.47 587.17,278.63 588.00,279.50 588.94,279.59 589.88,279.13 590.81,277.89 591.75,277.00 592.58,275.58 593.42,275.13 594.25,274.27 595.08,274.31 595.92,273.58 596.75,272.50 597.56,273.14 598.38,274.04 599.19,274.05 600.00,275.50 601.00,274.16 602.00,273.48 603.00,271.25 603.94,270.77 604.88,268.65 605.81,268.47 606.75,267.50 607.56,268.83 608.38,268.94 609.19,271.02 610.00,271.25 610.88,271.37 611.75,271.99 612.62,271.64 613.50,272.00 614.38,273.14 615.25,273.01 616.12,272.88 617.00,273.00" transform="translate(0 0.60)"/></g>
<g fill="none" stroke="#00ff00" stroke-width="1.80" stroke-linejoin="round"><polyline points="64.50,278.75 65.50,276.61 66.50,275.50 67.50,273.75 68.44,272.70 69.38,272.31 70.31,271.54 71.25,270.50 72.08,269.13 72.92,268.46 73.75,268.75 74.69,269.67 75.62,268.94 76.56,269.21 77.50,270.00 78.44,269.95 79.38,268.07 80.31,267.79 81.25,266.25 82.08,268.75 82.92,271.25 83.75,273.75 84.58,275.37 85.42,277.33 86.25,278.75 87.06,279.37 87.88,281.49 88.69,283.16 89.50,283.75 90.35,285.29 91.20,287.18 92.05,288.56 92.90,288.97 93.75,291.25 94.69,290.46 95.62,288.91 96.56,287.14 97.50,286.25 98.33,284.36 99.17,284.82 100.00,283.08 100.83,282.48 101.67,281.72 102.50,280.00 103.40,279.39 104.30,278.76 105.20,276.81 106.10,276.54 107.00,275.00 108.00,275.32 109.00,276.62 110.00,276.25 110.83,279.02 111.67,279.69 112.50,282.50 113.33,283.93 114.17,286.16 115.00,288.75 116.00,287.09 117.00,283.64 118.00,281.25 118.81,282.73 119.62,283.39 120.44,285.01 121.25,286.25 122.10,287.54 122.95,288.98 123.80,290.90 124.65,292.40 125.50,293.75 126.31,293.54 127.12,292.20 127.94,291.71 128.75,290.00 129.58,289.60 130.42,288.80 131.25,287.18 132.08,285.23 132.92,285.44 133.75,283.75 134.62,288.12 135.50,292.50 136.50,282.50 137.50,272.50 138.33,267.50 139.17,262.50 140.00,257.50 141.00,256.09 142.00,253.00 143.00,256.06 144.00,257.79 145.00,260.00 145.94,261.32 146.88,261.36 147.81,263.41 148.75,263.75 149.56,265.57 150.38,266.74 151.19,268.03 152.00,270.50 152.85,270.04 153.70,269.18 154.55,266.46 155.40,266.64 156.25,265.00 157.08,261.67 157.92,258.33 158.75,255.00 159.69,254.21 160.62,253.12 161.56,252.75 162.50,252.50 163.44,254.73 164.38,256.67 165.31,256.93 166.25,259.50 167.08,257.71 167.92,254.68 168.75,253.89 169.58,251.20 170.42,250.19 171.25,247.50 172.19,250.87 173.12,252.51 174.06,255.90 175.00,257.50 175.94,255.91 176.88,254.24 177.81,253.93 178.75,252.50 179.69,250.72 180.62,250.08 181.56,249.52 182.50,248.75 183.33,245.83 184.17,242.92 185.00,240.00 185.83,238.95 186.67,236.88 187.50,235.43 188.33,235.66 189.17,233.41 190.00,232.50 190.83,235.42 191.67,238.33 192.50,241.25 193.44,241.25 194.38,241.25 195.31,241.25 196.25,241.25 197.19,241.45 198.12,240.71 199.06,239.16 200.00,238.75 200.94,237.74 201.88,236.91 202.81,236.20 203.75,235.00 204.69,234.23 205.62,233.23 206.56,232.40 207.50,231.25 208.44,232.98 209.38,233.14 210.31,233.94 211.25,235.00 212.19,238.12 213.12,241.25 214.06,244.38 215.00,247.50 215.75,248.75 216.69,248.52 217.62,247.03 218.56,246.52 219.50,246.25 220.44,248.05 221.38,248.16 222.31,249.15 223.25,250.00 224.08,248.12 224.92,247.85 225.75,247.00 226.58,250.08 227.42,253.17 228.25,256.25 229.08,254.73 229.92,252.05 230.75,251.46 231.58,249.82 232.42,247.12 233.25,246.25 234.19,248.04 235.12,249.31 236.06,251.26 237.00,252.50 237.94,253.17 238.88,254.75 239.81,255.74 240.75,256.25 241.56,254.14 242.38,252.96 243.19,252.82 244.00,251.25 245.00,250.00 246.00,246.64 247.00,245.00 247.94,247.42 248.88,250.17 249.81,252.18 250.75,255.00 251.69,253.51 252.62,252.16 253.56,251.01 254.50,250.00 255.33,253.33 256.17,256.67 257.00,260.00 257.94,261.42 258.88,262.14 259.81,263.53 260.75,265.00 261.58,264.24 262.42,261.65 263.25,261.25 264.50,252.50 265.75,237.50 266.50,212.50 267.50,180.00 268.50,165.00 269.50,150.00 270.00,145.00 271.00,136.25 272.00,127.50 273.25,115.00 274.12,113.87 275.00,112.50 275.83,111.09 276.67,108.49 277.50,107.00 278.50,111.62 279.50,116.25 280.33,116.17 281.17,117.63 282.00,117.50 282.83,115.00 283.67,112.50 284.50,110.00 285.00,95.00 285.81,93.90 286.62,93.19 287.44,93.01 288.25,92.50 289.12,90.61 290.00,88.00 291.00,89.53 292.00,92.50 293.00,91.55 294.00,91.25 295.00,105.00 296.25,125.00 297.25,130.00 298.25,135.00 299.12,133.45 300.00,132.50 301.00,121.25 302.00,110.00 303.00,101.25 304.00,92.50 304.88,88.75 305.75,85.00 306.62,87.48 307.50,88.75 308.50,80.62 309.50,72.50 310.50,75.62 311.50,78.75 312.33,80.72 313.17,83.56 314.00,85.00 315.00,89.17 316.00,93.33 317.00,97.50 318.00,100.83 319.00,104.17 320.00,107.50 320.81,109.09 321.62,111.58 322.44,114.33 323.25,116.25 324.06,119.13 324.88,120.54 325.69,122.32 326.50,125.00 327.33,127.50 328.17,130.00 329.00,132.50 329.83,132.65 330.67,134.22 331.50,135.00 332.38,133.82 333.25,133.75 334.08,136.67 334.92,139.58 335.75,142.50 336.58,148.33 337.42,154.17 338.25,160.00 339.12,170.00 340.00,180.00 341.50,200.00 342.38,208.75 343.25,217.50 344.50,230.00 345.75,235.00 346.58,237.50 347.42,240.00 348.25,242.50 349.19,243.36 350.12,243.73 351.06,242.87 352.00,243.75 352.83,244.60 353.67,246.80 354.50,247.50 355.00,250.40 356.00,253.55 357.00,256.70 358.10,264.00 359.20,250.40 360.23,253.55 361.25,256.70 362.27,257.98 363.30,258.75 364.37,260.35 365.43,260.57 366.50,261.90 367.90,271.25 368.80,268.47 369.70,265.68 370.60,262.90 371.65,262.78 372.70,264.00 373.75,262.58 374.80,261.90 375.85,262.93 376.90,262.90 377.95,257.70 379.00,252.50 380.00,247.25 381.00,242.00 382.05,240.09 383.10,239.00 384.15,241.82 385.20,245.20 386.23,244.72 387.27,244.39 388.30,244.20 389.35,241.44 390.40,239.00 391.45,235.35 392.50,231.70 393.53,230.36 394.57,226.88 395.60,225.40 396.65,222.08 397.70,221.33 398.75,218.10 399.77,222.30 400.80,226.50 401.65,229.60 402.50,232.70 403.33,231.65 404.17,230.11 405.00,227.50 406.03,226.68 407.07,226.91 408.10,225.40 409.15,225.47 410.20,223.50 411.25,223.30 412.27,222.72 413.30,221.25 414.35,224.88 415.40,228.50 416.43,230.86 417.47,232.29 418.50,233.75 419.42,233.43 420.33,232.67 421.25,232.70 422.08,233.31 422.92,234.01 423.75,235.40 424.80,232.32 425.85,230.96 426.90,228.50 427.80,227.08 428.70,226.99 429.60,225.40 430.48,225.88 431.35,228.73 432.23,229.65 433.10,230.60 434.15,233.46 435.20,234.80 436.25,232.91 437.30,229.60 438.33,228.22 439.37,225.54 440.40,223.30 441.43,223.12 442.47,225.14 443.50,225.40 444.57,226.91 445.63,229.24 446.70,231.70 447.73,232.33 448.77,232.41 449.80,232.70 450.83,231.51 451.87,231.42 452.90,229.60 453.80,229.03 454.70,227.76 455.60,226.83 456.50,226.50 457.32,226.50 458.14,226.50 458.96,226.50 459.78,226.50 460.59,226.50 461.41,226.50 462.23,226.50 463.05,226.50 463.87,226.50 464.69,226.50 465.51,226.50 466.33,226.50 467.15,226.50 467.97,226.50 468.78,226.50 469.60,226.50 470.42,226.50 471.24,226.50 472.06,226.50 472.88,226.50 473.70,226.50 474.52,226.50 475.34,226.50 476.16,226.50 476.97,226.50 477.79,226.50 478.61,226.50 479.43,226.50 480.25,226.50 481.08,226.50 481.92,226.50 482.75,226.50 483.69,227.40 484.62,226.96 485.56,227.76 486.50,227.50 487.33,228.48 488.17,229.46 489.00,231.25 490.00,229.23 491.00,227.65 492.00,225.00 493.00,221.88 494.00,218.75 494.83,218.58 495.67,220.11 496.50,220.00 497.44,221.38 498.38,221.80 499.31,222.46 500.25,222.50 501.08,220.78 501.92,221.06 502.75,220.00 504.00,216.25" transform="translate(0 -0.60)"/><polyline points="64.50,278.75 65.50,276.61 66.50,275.50 67.50,273.75 68.44,272.70 69.38,272.31 70.31,271.54 71.25,270.50 72.08,269.13 72.92,268.46 73.75,268.75 74.69,269.67 75.62,268.94 76.56,269.21 77.50,270.00 78.44,269.95 79.38,268.07 80.31,267.79 81.25,266.25 82.08,268.75 82.92,271.25 83.75,273.75 84.58,275.37 85.42,277.33 86.25,278.75 87.06,279.37 87.88,281.49 88.69,283.16 89.50,283.75 90.35,285.29 91.20,287.18 92.05,288.56 92.90,288.97 93.75,291.25 94.69,290.46 95.62,288.91 96.56,287.14 97.50,286.25 98.33,284.36 99.17,284.82 100.00,283.08 100.83,282.48 101.67,281.72 102.50,280.00 103.40,279.39 104.30,278.76 105.20,276.81 106.10,276.54 107.00,275.00 108.00,275.32 109.00,276.62 110.00,276.25 110.83,279.02 111.67,279.69 112.50,282.50 113.33,283.93 114.17,286.16 115.00,288.75 116.00,287.09 117.00,283.64 118.00,281.25 118.81,282.73 119.62,283.39 120.44,285.01 121.25,286.25 122.10,287.54 122.95,288.98 123.80,290.90 124.65,292.40 125.50,293.75 126.31,293.54 127.12,292.20 127.94,291.71 128.75,290.00 129.58,289.60 130.42,288.80 131.25,287.18 132.08,285.23 132.92,285.44 133.75,283.75 134.62,288.12 135.50,292.50 136.50,282.50 137.50,272.50 138.33,267.50 139.17,262.50 140.00,257.50 141.00,256.09 142.00,253.00 143.00,256.06 144.00,257.79 145.00,260.00 145.94,261.32 146.88,261.36 147.81,263.41 148.75,263.75 149.56,265.57 150.38,266.74 151.19,268.03 152.00,270.50 152.85,270.04 153.70,269.18 154.55,266.46 155.40,266.64 156.25,265.00 157.08,261.67 157.92,258.33 158.75,255.00 159.69,254.21 160.62,253.12 161.56,252.75 162.50,252.50 163.44,254.73 164.38,256.67 165.31,256.93 166.25,259.50 167.08,257.71 167.92,254.68 168.75,253.89 169.58,251.20 170.42,250.19 171.25,247.50 172.19,250.87 173.12,252.51 174.06,255.90 175.00,257.50 175.94,255.91 176.88,254.24 177.81,253.93 178.75,252.50 179.69,250.72 180.62,250.08 181.56,249.52 182.50,248.75 183.33,245.83 184.17,242.92 185.00,240.00 185.83,238.95 186.67,236.88 187.50,235.43 188.33,235.66 189.17,233.41 190.00,232.50 190.83,235.42 191.67,238.33 192.50,241.25 193.44,241.25 194.38,241.25 195.31,241.25 196.25,241.25 197.19,241.45 198.12,240.71 199.06,239.16 200.00,238.75 200.94,237.74 201.88,236.91 202.81,236.20 203.75,235.00 204.69,234.23 205.62,233.23 206.56,232.40 207.50,231.25 208.44,232.98 209.38,233.14 210.31,233.94 211.25,235.00 212.19,238.12 213.12,241.25 214.06,244.38 215.00,247.50 215.75,248.75 216.69,248.52 217.62,247.03 218.56,246.52 219.50,246.25 220.44,248.05 221.38,248.16 222.31,249.15 223.25,250.00 224.08,248.12 224.92,247.85 225.75,247.00 226.58,250.08 227.42,253.17 228.25,256.25 229.08,254.73 229.92,252.05 230.75,251.46 231.58,249.82 232.42,247.12 233.25,246.25 234.19,248.04 235.12,249.31 236.06,251.26 237.00,252.50 237.94,253.17 238.88,254.75 239.81,255.74 240.75,256.25 241.56,254.14 242.38,252.96 243.19,252.82 244.00,251.25 245.00,250.00 246.00,246.64 247.00,245.00 247.94,247.42 248.88,250.17 249.81,252.18 250.75,255.00 251.69,253.51 252.62,252.16 253.56,251.01 254.50,250.00 255.33,253.33 256.17,256.67 257.00,260.00 257.94,261.42 258.88,262.14 259.81,263.53 260.75,265.00 261.58,264.24 262.42,261.65 263.25,261.25 264.50,252.50 265.75,237.50 266.50,212.50 267.50,180.00 268.50,165.00 269.50,150.00 270.00,145.00 271.00,136.25 272.00,127.50 273.25,115.00 274.12,113.87 275.00,112.50 275.83,111.09 276.67,108.49 277.50,107.00 278.50,111.62 279.50,116.25 280.33,116.17 281.17,117.63 282.00,117.50 282.83,115.00 283.67,112.50 284.50,110.00 285.00,95.00 285.81,93.90 286.62,93.19 287.44,93.01 288.25,92.50 289.12,90.61 290.00,88.00 291.00,89.53 292.00,92.50 293.00,91.55 294.00,91.25 295.00,105.00 296.25,125.00 297.25,130.00 298.25,135.00 299.12,133.45 300.00,132.50 301.00,121.25 302.00,110.00 303.00,101.25 304.00,92.50 304.88,88.75 305.75,85.00 306.62,87.48 307.50,88.75 308.50,80.62 309.50,72.50 310.50,75.62 311.50,78.75 312.33,80.72 313.17,83.56 314.00,85.00 315.00,89.17 316.00,93.33 317.00,97.50 318.00,100.83 319.00,104.17 320.00,107.50 320.81,109.09 321.62,111.58 322.44,114.33 323.25,116.25 324.06,119.13 324.88,120.54 325.69,122.32 326.50,125.00 327.33,127.50 328.17,130.00 329.00,132.50 329.83,132.65 330.67,134.22 331.50,135.00 332.38,133.82 333.25,133.75 334.08,136.67 334.92,139.58 335.75,142.50 336.58,148.33 337.42,154.17 338.25,160.00 339.12,170.00 340.00,180.00 341.50,200.00 342.38,208.75 343.25,217.50 344.50,230.00 345.75,235.00 346.58,237.50 347.42,240.00 348.25,242.50 349.19,243.36 350.12,243.73 351.06,242.87 352.00,243.75 352.83,244.60 353.67,246.80 354.50,247.50 355.00,250.40 356.00,253.55 357.00,256.70 358.10,264.00 359.20,250.40 360.23,253.55 361.25,256.70 362.27,257.98 363.30,258.75 364.37,260.35 365.43,260.57 366.50,261.90 367.90,271.25 368.80,268.47 369.70,265.68 370.60,262.90 371.65,262.78 372.70,264.00 373.75,262.58 374.80,261.90 375.85,262.93 376.90,262.90 377.95,257.70 379.00,252.50 380.00,247.25 381.00,242.00 382.05,240.09 383.10,239.00 384.15,241.82 385.20,245.20 386.23,244.72 387.27,244.39 388.30,244.20 389.35,241.44 390.40,239.00 391.45,235.35 392.50,231.70 393.53,230.36 394.57,226.88 395.60,225.40 396.65,222.08 397.70,221.33 398.75,218.10 399.77,222.30 400.80,226.50 401.65,229.60 402.50,232.70 403.33,231.65 404.17,230.11 405.00,227.50 406.03,226.68 407.07,226.91 408.10,225.40 409.15,225.47 410.20,223.50 411.25,223.30 412.27,222.72 413.30,221.25 414.35,224.88 415.40,228.50 416.43,230.86 417.47,232.29 418.50,233.75 419.42,233.43 420.33,232.67 421.25,232.70 422.08,233.31 422.92,234.01 423.75,235.40 424.80,232.32 425.85,230.96 426.90,228.50 427.80,227.08 428.70,226.99 429.60,225.40 430.48,225.88 431.35,228.73 432.23,229.65 433.10,230.60 434.15,233.46 435.20,234.80 436.25,232.91 437.30,229.60 438.33,228.22 439.37,225.54 440.40,223.30 441.43,223.12 442.47,225.14 443.50,225.40 444.57,226.91 445.63,229.24 446.70,231.70 447.73,232.33 448.77,232.41 449.80,232.70 450.83,231.51 451.87,231.42 452.90,229.60 453.80,229.03 454.70,227.76 455.60,226.83 456.50,226.50 457.32,226.50 458.14,226.50 458.96,226.50 459.78,226.50 460.59,226.50 461.41,226.50 462.23,226.50 463.05,226.50 463.87,226.50 464.69,226.50 465.51,226.50 466.33,226.50 467.15,226.50 467.97,226.50 468.78,226.50 469.60,226.50 470.42,226.50 471.24,226.50 472.06,226.50 472.88,226.50 473.70,226.50 474.52,226.50 475.34,226.50 476.16,226.50 476.97,226.50 477.79,226.50 478.61,226.50 479.43,226.50 480.25,226.50 481.08,226.50 481.92,226.50 482.75,226.50 483.69,227.40 484.62,226.96 485.56,227.76 486.50,227.50 487.33,228.48 488.17,229.46 489.00,231.25 490.00,229.23 491.00,227.65 492.00,225.00 493.00,221.88 494.00,218.75 494.83,218.58 495.67,220.11 496.50,220.00 497.44,221.38 498.38,221.80 499.31,222.46 500.25,222.50 501.08,220.78 501.92,221.06 502.75,220.00 504.00,216.25" transform="translate(0 0.60)"/></g>
<text class="m" transform="translate(17.60 28.50) scale(1 1.000)" font-size="11.67" font-weight="normal" fill="#d6d6d6" stroke="#d6d6d6" stroke-width="0.35">1870.0</text>
<text class="m" transform="translate(17.60 66.50) scale(1 1.000)" font-size="11.67" font-weight="normal" fill="#d6d6d6" stroke="#d6d6d6" stroke-width="0.35">1865.0</text>
<text class="m" transform="translate(17.60 105.50) scale(1 1.000)" font-size="11.67" font-weight="normal" fill="#d6d6d6" stroke="#d6d6d6" stroke-width="0.35">1860.0</text>
<text class="m" transform="translate(17.60 143.50) scale(1 1.000)" font-size="11.67" font-weight="normal" fill="#d6d6d6" stroke="#d6d6d6" stroke-width="0.35">1855.0</text>
<text class="m" transform="translate(17.60 181.50) scale(1 1.000)" font-size="11.67" font-weight="normal" fill="#d6d6d6" stroke="#d6d6d6" stroke-width="0.35">1850.0</text>
<text class="m" transform="translate(17.60 220.50) scale(1 1.000)" font-size="11.67" font-weight="normal" fill="#d6d6d6" stroke="#d6d6d6" stroke-width="0.35">1845.0</text>
<text class="m" transform="translate(17.60 258.50) scale(1 1.000)" font-size="11.67" font-weight="normal" fill="#d6d6d6" stroke="#d6d6d6" stroke-width="0.35">1840.0</text>
<text class="m" transform="translate(17.60 296.50) scale(1 1.000)" font-size="11.67" font-weight="normal" fill="#d6d6d6" stroke="#d6d6d6" stroke-width="0.35">1835.0</text>
<text class="m" transform="translate(17.60 335.50) scale(1 1.000)" font-size="11.67" font-weight="normal" fill="#d6d6d6" stroke="#d6d6d6" stroke-width="0.35">1830.0</text>
<text class="m" transform="translate(17.60 373.50) scale(1 1.000)" font-size="11.67" font-weight="normal" fill="#d6d6d6" stroke="#d6d6d6" stroke-width="0.35">1825.0</text>
<text class="m" transform="translate(18.60 14.60) scale(1 1.000)" font-size="11.67" font-weight="normal" fill="#d6d6d6" stroke="#d6d6d6" stroke-width="0.35">USD/oz</text>
<text class="m" transform="translate(45.50 385.40) scale(1 1.000)" font-size="11.67" font-weight="normal" fill="#ececec" stroke="#ececec" stroke-width="0.35">00:00</text>
<text class="m" transform="translate(45.50 399.20) scale(1 1.000)" font-size="11.67" font-weight="normal" fill="#545454" stroke="#545454" stroke-width="0.35">05:00</text>
<text class="m" transform="translate(137.50 385.40) scale(1 1.000)" font-size="11.67" font-weight="normal" fill="#ececec" stroke="#ececec" stroke-width="0.35">04:00</text>
<text class="m" transform="translate(137.50 399.20) scale(1 1.000)" font-size="11.67" font-weight="normal" fill="#545454" stroke="#545454" stroke-width="0.35">09:00</text>
<text class="m" transform="translate(230.50 385.40) scale(1 1.000)" font-size="11.67" font-weight="normal" fill="#ececec" stroke="#ececec" stroke-width="0.35">08:00</text>
<text class="m" transform="translate(230.50 399.20) scale(1 1.000)" font-size="11.67" font-weight="normal" fill="#545454" stroke="#545454" stroke-width="0.35">13:00</text>
<text class="m" transform="translate(322.50 385.40) scale(1 1.000)" font-size="11.67" font-weight="normal" fill="#ececec" stroke="#ececec" stroke-width="0.35">12:00</text>
<text class="m" transform="translate(322.50 399.20) scale(1 1.000)" font-size="11.67" font-weight="normal" fill="#545454" stroke="#545454" stroke-width="0.35">17:00</text>
<text class="m" transform="translate(414.50 385.40) scale(1 1.000)" font-size="11.67" font-weight="normal" fill="#ececec" stroke="#ececec" stroke-width="0.35">16:00</text>
<text class="m" transform="translate(414.50 399.20) scale(1 1.000)" font-size="11.67" font-weight="normal" fill="#545454" stroke="#545454" stroke-width="0.35">21:00</text>
<text class="m" transform="translate(506.50 385.40) scale(1 1.000)" font-size="11.67" font-weight="normal" fill="#ececec" stroke="#ececec" stroke-width="0.35">20:00</text>
<text class="m" transform="translate(506.50 399.20) scale(1 1.000)" font-size="11.67" font-weight="normal" fill="#545454" stroke="#545454" stroke-width="0.35">01:00</text>
<text class="m" transform="translate(588.60 385.40) scale(1 1.000)" font-size="11.67" font-weight="normal" fill="#ececec" stroke="#ececec" stroke-width="0.35">23:59</text>
<text class="m" transform="translate(588.60 399.20) scale(1 1.000)" font-size="11.67" font-weight="normal" fill="#545454" stroke="#545454" stroke-width="0.35">04:59</text>
<text class="m" transform="translate(1.60 386.80) scale(1 1.080)" font-size="10.00" font-weight="normal" fill="#dcdcdc" stroke="#dcdcdc" stroke-width="0.35">NY Time</text>
<text class="m" transform="translate(9.50 399.20) scale(1 1.080)" font-size="10.00" font-weight="normal" fill="#dcdcdc" stroke="#dcdcdc" stroke-width="0.35">GMT</text>
<text class="s" x="187.80" y="19.8" font-size="19" textLength="20.50" lengthAdjust="spacingAndGlyphs" fill="#5b6cf5">24</text>
<text class="s" x="211.30" y="19.8" font-size="19" textLength="43.80" lengthAdjust="spacingAndGlyphs" fill="#5b6cf5">Hour</text>
<text class="s" x="261.30" y="19.8" font-size="19" textLength="43.20" lengthAdjust="spacingAndGlyphs" fill="#5b6cf5">Spot</text>
<text class="s" x="307.10" y="19.8" font-size="19" textLength="43.40" lengthAdjust="spacingAndGlyphs" fill="#5b6cf5">Gold</text>
<text class="s" x="355.30" y="19.8" font-size="19" textLength="42.90" lengthAdjust="spacingAndGlyphs" fill="#5b6cf5">(Bid)</text>
<text class="s" x="65.8" y="53.3" font-size="19.5" textLength="133.5" lengthAdjust="spacingAndGlyphs" fill="#5b6cf5">www.kitco.com</text>
<text class="m" transform="translate(452.80 22.20) scale(1 1.000)" font-size="11.67" font-weight="normal" fill="#dcdcdc" stroke="#dcdcdc" stroke-width="0.35">January 28, 2021 19:05</text>
<text class="m" transform="translate(449.40 36.20) scale(1 1.000)" font-size="11.67" font-weight="bold" fill="#00d0ff">Jan 26 NY close 1850.60</text>
<rect x="439.8" y="29.85" width="6.3" height="1.9" fill="#00d0ff"/>
<text class="m" transform="translate(449.40 48.20) scale(1 1.000)" font-size="11.67" font-weight="bold" fill="#ff0000">Jan 27 NY close 1844.60</text>
<rect x="439.8" y="42.75" width="6.3" height="1.9" fill="#ff0000"/>
<text class="m" transform="translate(449.40 61.20) scale(1 1.000)" font-size="11.67" font-weight="bold" fill="#00ff00">Jan 28 Last 1844.90</text>
<rect x="439.8" y="57.15" width="6.3" height="1.9" fill="#00ff00"/>
</svg></body></html>
